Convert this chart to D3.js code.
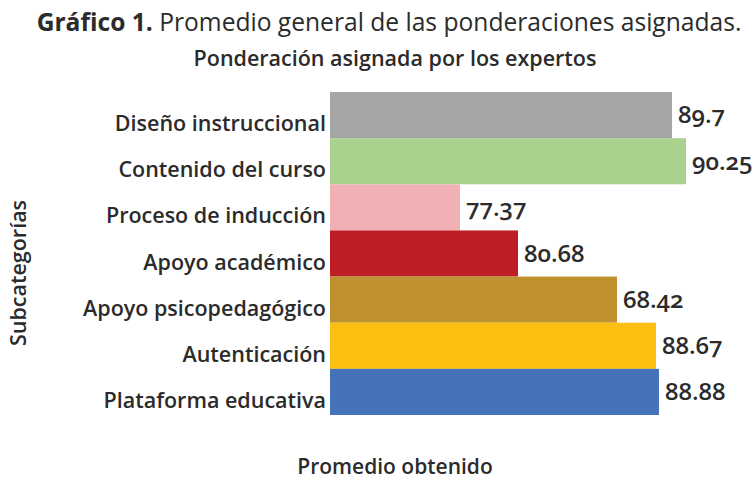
<!DOCTYPE html>
<html>
<head>
<meta charset="utf-8">
<script src="https://cdn.jsdelivr.net/npm/d3@7"></script>
<style>
  body { margin: 0; background: #fff; }
  text { font-family: "Open Sans", "Noto Sans", sans-serif; fill: #2b2b2b; }
</style>
</head>
<body>
<div id="chart"></div>
<script>
const categories = [
    "Diseño instruccional",
    "Contenido del curso",
    "Proceso de inducción",
    "Apoyo académico",
    "Apoyo psicopedagógico",
    "Autenticación",
    "Plataforma educativa"
]
// values printed next to each bar
const values = [89.7, 90.25, 77.37, 80.68, 68.42, 88.67, 88.88]
// bar length as drawn in the original (it does not follow the printed values)
const barLengths = [85.5, 89, 32.5, 47, 71.75, 81.5, 82.25]
const colors = ["#a5a5a5", "#abd18f", "#f0b0b4", "#be1e26", "#bf912e", "#fbbf12", "#4672b9"]

const width = 754
const height = 480

const svg = d3.select("#chart")
    .append("svg")
    .attr("width", width)
    .attr("height", height)

const x = d3.scaleLinear().domain([0, 100]).range([330, 730])
const y = d3.scaleBand().domain(categories).range([92, 415]).padding(0)

const rows = categories.map((c, i) => ({ cat: c, value: values[i], len: barLengths[i], color: colors[i] }))

svg.selectAll(".bar")
    .data(rows)
    .enter()
    .append("rect")
    .attr("class", "bar")
    .attr("x", x(0))
    .attr("y", d => y(d.cat))
    .attr("width", d => x(d.len) - x(0))
    .attr("height", y.bandwidth())
    .attr("fill", d => d.color)

svg.selectAll(".val")
    .data(rows)
    .enter()
    .append("text")
    .attr("class", "val")
    .attr("x", d => x(d.len) + 6)
    .attr("y", d => y(d.cat) + y.bandwidth() / 2)
    .attr("dy", "0.35em")
    .style("font-size", "24px")
    .style("font-weight", 600)
    .style("font-variant-numeric", "oldstyle-nums")
    .text(d => d.value)

// category labels (sit a bit below the bar centre, as in the original)
svg.selectAll(".cat")
    .data(rows)
    .enter()
    .append("text")
    .attr("class", "cat")
    .attr("x", 326)
    .attr("y", d => y(d.cat) + y.bandwidth() / 2 + 16)
    .attr("text-anchor", "end")
    .style("font-size", "21.5px")
    .style("font-weight", 600)
    .text(d => d.cat)

// titles
const title = svg.append("text")
    .attr("x", 389)
    .attr("y", 31)
    .attr("text-anchor", "middle")
    .style("font-size", "24.6px")
title.append("tspan").style("font-weight", 700).text("Gráfico 1.")
title.append("tspan").text(" Promedio general de las ponderaciones asignadas.")

svg.append("text")
    .attr("x", 395)
    .attr("y", 66)
    .attr("text-anchor", "middle")
    .style("font-size", "21.5px")
    .style("font-weight", 600)
    .text("Ponderación asignada por los expertos")

svg.append("text")
    .attr("x", 395)
    .attr("y", 474)
    .attr("text-anchor", "middle")
    .style("font-size", "21px")
    .style("font-weight", 600)
    .text("Promedio obtenido")

svg.append("text")
    .attr("transform", "translate(26,273) rotate(-90)")
    .attr("text-anchor", "middle")
    .style("font-size", "21.5px")
    .style("font-weight", 600)
    .text("Subcategorías")
</script>
</body>
</html>
